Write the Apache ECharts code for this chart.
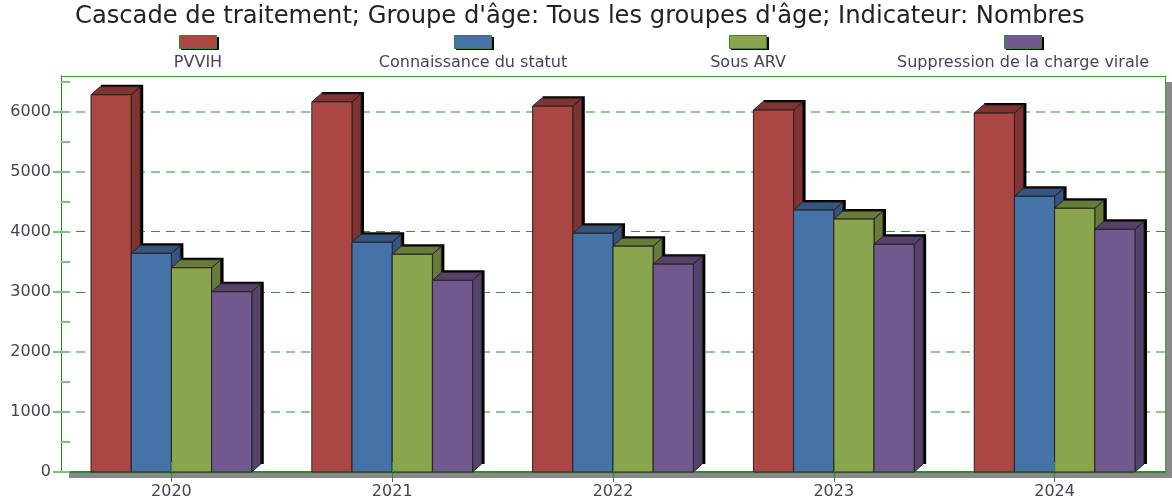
<!DOCTYPE html>
<html>
<head>
<meta charset="utf-8">
<style>html,body{margin:0;padding:0;background:#fff}#chart{width:1172px;height:502px}</style>
<script src="https://cdn.jsdelivr.net/npm/echarts@6/dist/echarts.min.js"></script>
</head>
<body>
<div id="chart"></div>
<script>
const years = ['2020', '2021', '2022', '2023', '2024'];
const names = ['PVVIH', 'Connaissance du statut', 'Sous ARV', 'Suppression de la charge virale'];
const pvvih = [6280, 6160, 6090, 6025, 5975];
const statut = [3640, 3825, 3975, 4360, 4590];
const arv = [3400, 3625, 3760, 4210, 4390];
const suppression = [3000, 3190, 3460, 3790, 4040];
const yTicks = [0, 1000, 2000, 3000, 4000, 5000, 6000];
const yMinor = [0, 500, 1000, 1500, 2000, 2500, 3000, 3500, 4000, 4500, 5000, 5500, 6000, 6500];
// the reference draws these gridlines soft and wide, the others thin and dark
const softLines = [1000, 2000, 5000, 6000];
const thinLines = [3000, 4000];

const values = [pvvih, statut, arv, suppression];
const colors = ['#AA4643', '#4572A7', '#89A54E', '#71588F'];
const darks = ['#7F3432', '#335580', '#677B3A', '#54426B'];
const font = '"DejaVu Sans", sans-serif';
const green = '#3f9f3f';

const mychart = echarts.init(document.getElementById('chart'));

function renderBar(i) {
  return function (params, api) {
    const cat = api.value(0);
    const top = api.coord([cat, api.value(1)]);
    const base = api.coord([cat, 0]);
    const w = api.size([1, 0])[0] * 0.182;
    const x = top[0] + (i - 2) * w;
    const y = top[1];
    const b = base[1];
    const dx = 9;
    const dy = 8;
    const edge = { stroke: '#2a2020', lineWidth: 1 };
    return {
      type: 'group',
      children: [
        { type: 'rect', shape: { x: x + dx + 1, y: y - dy - 2, width: w + 2, height: b - y + 2 },
          style: { fill: '#000' } },
        { type: 'polygon', shape: { points: [[x + w, y], [x + w + dx, y - dy], [x + w + dx, b - dy], [x + w, b]] },
          style: Object.assign({ fill: darks[i] }, edge) },
        { type: 'polygon', shape: { points: [[x, y], [x + dx, y - dy], [x + w + dx, y - dy], [x + w, y]] },
          style: Object.assign({ fill: darks[i] }, edge) },
        { type: 'rect', shape: { x: x, y: y, width: w, height: b - y },
          style: Object.assign({ fill: colors[i] }, edge) }
      ]
    };
  };
}

const legendGraphics = [];
names.forEach(function (name, i) {
  const cx = 199 + i * 275;
  legendGraphics.push(
    { type: 'rect', shape: { x: cx - 18, y: 37, width: 38, height: 13 }, style: { fill: '#000' } },
    { type: 'rect', shape: { x: cx - 19.5, y: 35.5, width: 37, height: 13 },
      style: { fill: colors[i], stroke: '#2f8a2f', lineWidth: 1 } },
    { type: 'text', x: cx - 1, y: 63, style: { text: name, fill: '#445', font: '16px ' + font, align: 'center', verticalAlign: 'middle' } }
  );
});

function hiddenY(position, extra) {
  return Object.assign({
    type: 'value',
    position: position,
    min: 0,
    max: 6592,
    axisLine: { show: false },
    axisTick: { show: false },
    axisLabel: { show: false },
    splitLine: { show: false }
  }, extra);
}

const option = {
  backgroundColor: '#fff',
  animation: false,
  title: {
    text: "Cascade de traitement; Groupe d'âge: Tous les groupes d'âge; Indicateur: Nombres",
    left: 70,
    top: 0,
    textStyle: { fontFamily: font, fontSize: 24.2, fontWeight: 'normal', color: '#222' }
  },
  graphic: legendGraphics,
  grid: {
    left: 61,
    right: 7,
    top: 76,
    bottom: 30,
    show: true,
    backgroundColor: '#fff',
    borderWidth: 0,
    shadowColor: '#888',
    shadowOffsetX: 8,
    shadowOffsetY: 6,
    shadowBlur: 0
  },
  xAxis: [
    {
      type: 'category',
      data: years,
      axisLine: { show: true, onZero: false, lineStyle: { color: '#2f8a2f', width: 2 } },
      axisTick: { show: true, alignWithLabel: true, length: 10, lineStyle: { color: '#2f8a2f' } },
      axisLabel: { color: '#445', fontFamily: font, fontSize: 16, margin: 12 }
    },
    {
      type: 'category',
      data: years,
      position: 'bottom',
      z: 5,
      axisLine: { show: false },
      axisTick: { show: true, inside: true, alignWithLabel: true, length: 10, lineStyle: { color: '#2f8a2f' } },
      axisLabel: { show: false }
    },
    {
      type: 'category',
      data: years,
      position: 'top',
      axisLine: { show: true, onZero: false, lineStyle: { color: green, width: 1 } },
      axisTick: { show: false },
      axisLabel: { show: false }
    }
  ],
  yAxis: [
    {
      type: 'value',
      min: 0,
      max: 6592,
      interval: 1000,
      axisLine: { show: true, onZero: false, lineStyle: { color: '#1f8a1f', width: 1 } },
      axisTick: { show: true, length: 8, customValues: yTicks, lineStyle: { color: '#7fc07f', width: 2 } },
      axisLabel: { customValues: yTicks, formatter: function (v) { return String(v); }, color: '#445', fontFamily: font, fontSize: 16, margin: 10 },
      splitLine: { show: false }
    },
    hiddenY('left', {
      axisTick: { show: true, inside: true, length: 9, customValues: yMinor, lineStyle: { color: '#7fc07f', width: 2 } }
    }),
    hiddenY('left', {
      axisTick: { show: false, customValues: softLines },
      splitLine: { show: true, lineStyle: { type: [9, 6], color: '#8ccb8c', width: 2 } }
    }),
    hiddenY('left', {
      axisTick: { show: false, customValues: thinLines },
      splitLine: { show: true, lineStyle: { type: [9, 6], color: '#3f8a3f', width: 1 } }
    }),
    hiddenY('right', {
      axisLine: { show: true, onZero: false, lineStyle: { color: green, width: 1 } }
    })
  ],
  series: values.map(function (vals, i) {
    return {
      type: 'custom',
      name: names[i],
      renderItem: renderBar(i),
      encode: { x: 0, y: 1 },
      data: vals.map(function (v, k) { return [k, v]; }),
      z: 2 + i,
      clip: false
    };
  })
};
mychart.setOption(option);
</script>
</body>
</html>
